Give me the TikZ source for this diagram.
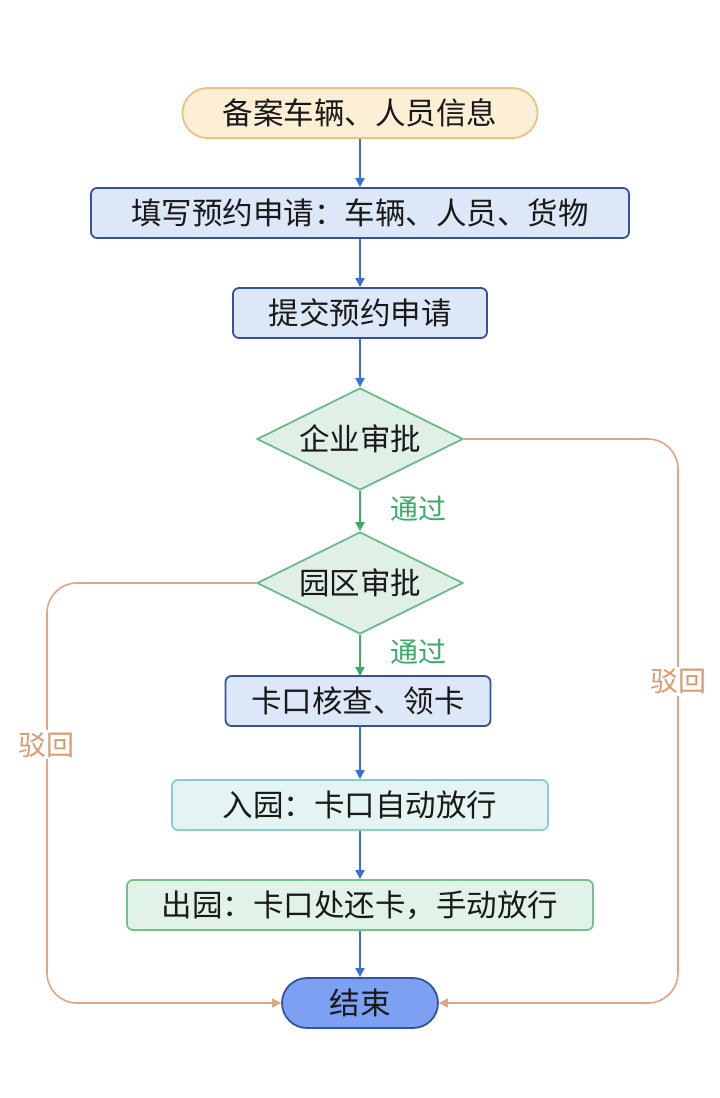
\documentclass[tikz,border=0pt]{standalone}
\usepackage{fontspec}
\newfontfamily\cjk{Noto Sans CJK SC}
\usetikzlibrary{shapes.geometric,shapes.misc,arrows.meta}
\definecolor{orfill}{HTML}{FDEFD5}
\definecolor{ordraw}{HTML}{EBC27E}
\definecolor{blfill}{HTML}{DCE7F8}
\definecolor{bldraw}{HTML}{34529F}
\definecolor{dmfill}{HTML}{E0F0E6}
\definecolor{dmdraw}{HTML}{6DB98C}
\definecolor{tlfill}{HTML}{E3F4F3}
\definecolor{tldraw}{HTML}{86CFCB}
\definecolor{grfill}{HTML}{E1F3E6}
\definecolor{grdraw}{HTML}{76C28E}
\definecolor{endfill}{HTML}{7DA1F2}
\definecolor{arrblue}{HTML}{3A6FD8}
\definecolor{arrgreen}{HTML}{3DAA6A}
\definecolor{looporange}{HTML}{E2A482}
\definecolor{txtorange}{HTML}{D99A72}
\begin{document}
\begin{tikzpicture}[x=1pt,y=-1pt,
  base/.style={font=\cjk\fontsize{30.5}{36}\selectfont, text=black!90, inner sep=0pt, line width=1.8pt},
  pill/.style={base, rounded rectangle, minimum height=50pt},
  box/.style={base, rectangle, rounded corners=6pt, minimum height=50pt},
  bluebox/.style={box, fill=blfill, draw=bldraw},
  dia/.style={base, diamond, aspect=2.02, fill=dmfill, draw=dmdraw, minimum width=206pt, minimum height=102pt},
  flow/.style={draw=arrblue, line width=1.8pt, -{Triangle[length=9pt,width=9pt]}},
  okflow/.style={draw=arrgreen, line width=1.8pt, -{Triangle[length=9pt,width=9pt]}},
  back/.style={draw=looporange, line width=1.6pt, rounded corners=30pt, -{Triangle[length=9pt,width=9pt]}},
  lbl/.style={font=\cjk\fontsize{28}{32}\selectfont, inner sep=2pt}
]
\useasboundingbox (0,0) rectangle (720,1098);
\fill[white] (0,0) rectangle (720,1098);
\node[pill, fill=orfill, draw=ordraw, minimum width=355pt] (n1) at (360,113) {备案车辆、人员信息};
\node[bluebox, minimum width=538pt] (n2) at (360,213) {填写预约申请：车辆、人员、货物};
\node[bluebox, minimum width=254pt] (n3) at (360,313) {提交预约申请};
\node[dia] (d1) at (360,439) {企业审批};
\node[dia] (d2) at (360,583) {园区审批};
\node[bluebox, minimum width=265pt] (n4) at (358,701) {卡口核查、领卡};
\node[box, fill=tlfill, draw=tldraw, minimum width=376pt] (n5) at (360,805) {入园：卡口自动放行};
\node[box, fill=grfill, draw=grdraw, minimum width=466pt] (n6) at (360,905) {出园：卡口处还卡，手动放行};
\node[pill, fill=endfill, draw=bldraw, minimum width=156pt] (e) at (360,1003) {结束};
\coordinate (rt) at (678,439);
\coordinate (rb) at (678,1003);
\coordinate (lt) at (47,583);
\coordinate (lb) at (47,1003);
\coordinate (n4top) at (360,676);
\coordinate (n4bot) at (360,726);
\draw[flow] (n1) -- (n2);
\draw[flow] (n2) -- (n3);
\draw[flow] (n3) -- (d1);
\draw[okflow] (d1) -- node[lbl, right=28pt, text=arrgreen, pos=0.45] {通过} (d2);
\draw[okflow] (d2) -- node[lbl, right=28pt, text=arrgreen, pos=0.4] {通过} (n4top);
\draw[flow] (n4bot) -- (n5);
\draw[flow] (n5) -- (n6);
\draw[flow] (n6) -- (e);
\draw[back] (d1.east) -- (rt) -- node[lbl, fill=white, text=txtorange, pos=0.43] {驳回} (rb) -- (e.east);
\draw[back] (d2.west) -- (lt) -- node[lbl, fill=white, text=txtorange, pos=0.385] {驳回} (lb) -- (e.west);
\end{tikzpicture}
\end{document}
